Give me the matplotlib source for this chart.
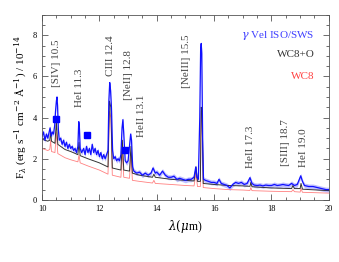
"""Recreate gamma Vel ISO/SWS spectrum vs WC8 / WC8+O models."""

import matplotlib
matplotlib.use("Agg")
import matplotlib.pyplot as plt
from matplotlib.ticker import MultipleLocator

plt.rcParams["font.family"] = ["Liberation Serif", "DejaVu Serif"]
plt.rcParams["mathtext.fontset"] = "dejavuserif"

# ---------------------------------------------------------------------------
# Data
# ---------------------------------------------------------------------------

iso_wave = [10.00, 10.05, 10.10, 10.15, 10.20, 10.25, 10.28, 10.32, 10.36, 10.40,
            10.44, 10.47, 10.50, 10.52, 10.54, 10.57, 10.60, 10.65, 10.70, 10.75,
            10.80, 10.85, 10.90, 10.95, 11.00, 11.05, 11.10, 11.15, 11.20, 11.25,
            11.28, 11.30, 11.33, 11.38, 11.45, 11.50, 11.55, 11.60, 11.65, 11.70,
            11.75, 11.80, 11.85, 11.90, 11.95, 12.00, 12.05, 12.10, 12.15, 12.20,
            12.25, 12.30, 12.33, 12.36, 12.39, 12.42, 12.46, 12.50, 12.55, 12.60,
            12.65, 12.70, 12.75, 12.79, 12.82, 12.85, 12.90, 12.95, 13.00, 13.05,
            13.09, 13.12, 13.16, 13.20, 13.30, 13.40, 13.50, 13.60, 13.70, 13.80,
            13.87, 13.95, 14.00, 14.10, 14.20, 14.30, 14.40, 14.50, 14.60, 14.70,
            14.80, 14.90, 15.00, 15.10, 15.20, 15.30, 15.36, 15.40, 15.45, 15.50,
            15.53, 15.55, 15.57, 15.60, 15.63, 15.70, 15.80, 15.90, 16.00, 16.10,
            16.17, 16.25, 16.35, 16.45, 16.55, 16.65, 16.75, 16.85, 16.95, 17.05,
            17.15, 17.25, 17.32, 17.40, 17.50, 17.60, 17.70, 17.80, 17.90, 18.00,
            18.10, 18.20, 18.30, 18.40, 18.50, 18.60, 18.70, 18.80, 18.90, 18.97,
            19.02, 19.08, 19.15, 19.30, 19.45, 19.60, 19.75, 19.90, 20.00]
iso_flux = [3.1, 3.3, 2.9, 3.2, 3.0, 3.3, 3.5, 3.1, 3.3, 3.2,
            3.6, 4.3, 4.8, 5.0, 4.6, 3.4, 2.9, 3.0, 2.7, 2.9,
            2.6, 2.8, 2.5, 2.7, 2.5, 2.6, 2.4, 2.5, 2.3, 2.6,
            3.8, 3.6, 2.5, 2.3, 2.5, 2.2, 2.6, 2.3, 2.5, 2.2,
            2.7, 2.3, 2.5, 2.2, 2.4, 2.1, 2.3, 2.0, 2.2, 2.0,
            2.2, 2.4, 4.8, 5.7, 5.3, 4.5, 2.4, 2.0, 2.1, 1.9,
            2.0, 1.9, 2.2, 3.5, 3.9, 3.2, 1.9, 1.8, 1.9, 2.6,
            3.2, 2.9, 1.6, 1.4, 1.3, 1.35, 1.2, 1.3, 1.2, 1.3,
            1.55, 1.3, 1.35, 1.2, 1.4, 1.2, 1.1, 1.1, 1.15, 1.0,
            1.05, 1.0, 0.95, 1.0, 1.0, 1.1, 1.6, 1.1, 1.0, 4.0,
            7.3, 7.6, 7.1, 3.0, 1.0, 0.95, 0.9, 0.85, 0.85, 0.8,
            1.0, 0.8, 0.75, 0.7, 0.58, 0.75, 0.85, 0.8, 0.85, 0.75,
            0.8, 1.08, 0.8, 0.72, 0.7, 0.72, 0.68, 0.72, 0.7, 0.7,
            0.75, 0.7, 0.72, 0.75, 0.72, 0.7, 0.8, 0.7, 0.75, 1.0,
            1.17, 0.9, 0.7, 0.65, 0.65, 0.6, 0.55, 0.5, 0.5]

wc8o_wave = [10.00, 10.20, 10.27, 10.30, 10.33, 10.45, 10.50, 10.55, 10.80, 11.00,
             11.25, 11.29, 11.33, 11.60, 12.00, 12.30, 12.35, 12.40, 12.45, 12.75,
             12.80, 12.85, 13.05, 13.10, 13.15, 13.40, 13.85, 13.90, 13.95, 14.50,
             15.00, 15.30, 15.37, 15.42, 15.52, 15.55, 15.58, 15.62, 16.00, 16.50,
             17.00, 17.25, 17.28, 17.32, 18.00, 18.70, 18.75, 18.80, 19.00, 19.03,
             19.08, 20.00]
wc8o_flux = [2.95, 2.85, 2.9, 3.3, 2.85, 2.75, 3.8, 2.7, 2.45, 2.35,
             2.2, 2.8, 2.15, 2.0, 1.8, 1.6, 4.8, 4.5, 1.55, 1.45,
             2.9, 1.45, 1.4, 2.6, 1.3, 1.2, 1.1, 1.25, 1.1, 1.0,
             0.95, 0.92, 1.6, 0.9, 0.9, 4.5, 4.3, 0.8, 0.75, 0.7,
             0.68, 0.66, 0.85, 0.64, 0.58, 0.55, 0.7, 0.55, 0.55, 0.8,
             0.52, 0.45]

wc8_wave = wc8o_wave
wc8_flux = [2.5, 2.4, 2.45, 2.9, 2.35, 2.3, 3.3, 2.25, 2.05, 1.95,
            1.85, 2.2, 1.8, 1.65, 1.45, 1.25, 4.3, 4.0, 1.2, 1.1,
            2.3, 1.1, 1.05, 2.3, 0.95, 0.9, 0.82, 0.95, 0.8, 0.75,
            0.7, 0.68, 1.3, 0.65, 0.65, 4.3, 4.1, 0.6, 0.55, 0.5,
            0.48, 0.46, 0.6, 0.45, 0.42, 0.4, 0.5, 0.4, 0.38, 0.55,
            0.37, 0.33]

# photometry points
phot_wave = [10.48, 11.57, 12.88]
phot_flux = [3.95, 3.17, 2.44]

# line identifications: label, x position, y of the label's lower end
line_labels = ["[SIV] 10.5", "HeI 11.3", "CIII 12.4", "[NeII] 12.8", "HeII 13.1",
               "[NeIII] 15.5", "HeII 17.3", "[SIII] 18.7", "HeI 19.0"]
line_x = [10.52, 11.29, 12.37, 13.0, 13.48, 15.05, 17.28, 18.5, 19.13]
line_y = [5.5, 4.5, 6.0, 4.85, 3.06, 5.45, 1.55, 1.65, 1.6]

# ---------------------------------------------------------------------------
# Plot
# ---------------------------------------------------------------------------

fig = plt.figure(figsize=(3.39, 2.62), dpi=100)
ax = fig.add_axes([0.124, 0.237, 0.846, 0.707])

ax.plot(wc8_wave, wc8_flux, color="#ff8080", linewidth=0.6)
ax.plot(wc8o_wave, wc8o_flux, color="#333333", linewidth=0.7)
iso_lo = [f - 0.12 for f in iso_flux]
iso_hi = [f + 0.12 for f in iso_flux]
ax.fill_between(iso_wave, iso_lo, iso_hi, color="#8080ff", alpha=0.5, linewidth=0)
ax.plot(iso_wave, iso_flux, color="#1010ff", linewidth=0.9)
ax.plot(phot_wave, phot_flux, "s", color="#0000ff", markersize=4.5)

for lab, lx, ly in zip(line_labels, line_x, line_y):
    ax.text(lx, ly, lab, rotation=90, ha="center", va="bottom",
            fontsize=8, color="#444444")

ax.text(19.51, 8.0, r"$\gamma$ Vel ISO/SWS", ha="right", va="center",
        fontsize=8, color="#4040ff")
ax.text(19.51, 7.05, "WC8+O", ha="right", va="center", fontsize=8, color="#333333")
ax.text(19.51, 6.0, "WC8", ha="right", va="center", fontsize=8, color="#ff4040")

ax.set_xlim(10, 20)
ax.set_ylim(0, 9)
ax.xaxis.set_major_locator(MultipleLocator(2))
ax.xaxis.set_minor_locator(MultipleLocator(0.5))
ax.yaxis.set_major_locator(MultipleLocator(2))
ax.yaxis.set_minor_locator(MultipleLocator(0.5))
ax.tick_params(which="both", direction="in", top=True, right=True,
               labelsize=6, color="#555555", width=0.6)
ax.tick_params(which="major", length=4)
ax.tick_params(which="minor", length=2)
for spine in ax.spines.values():
    spine.set_linewidth(0.6)
    spine.set_color("#555555")

ax.set_xlabel(r"$\lambda(\mu$m)", fontsize=8.5, labelpad=4)
ax.set_ylabel(r"F$_\lambda$ (erg s$^{-1}$ cm$^{-2}$ Å$^{-1}$) / 10$^{-14}$",
              fontsize=8, labelpad=3)

fig.savefig("out.png", dpi=100)
